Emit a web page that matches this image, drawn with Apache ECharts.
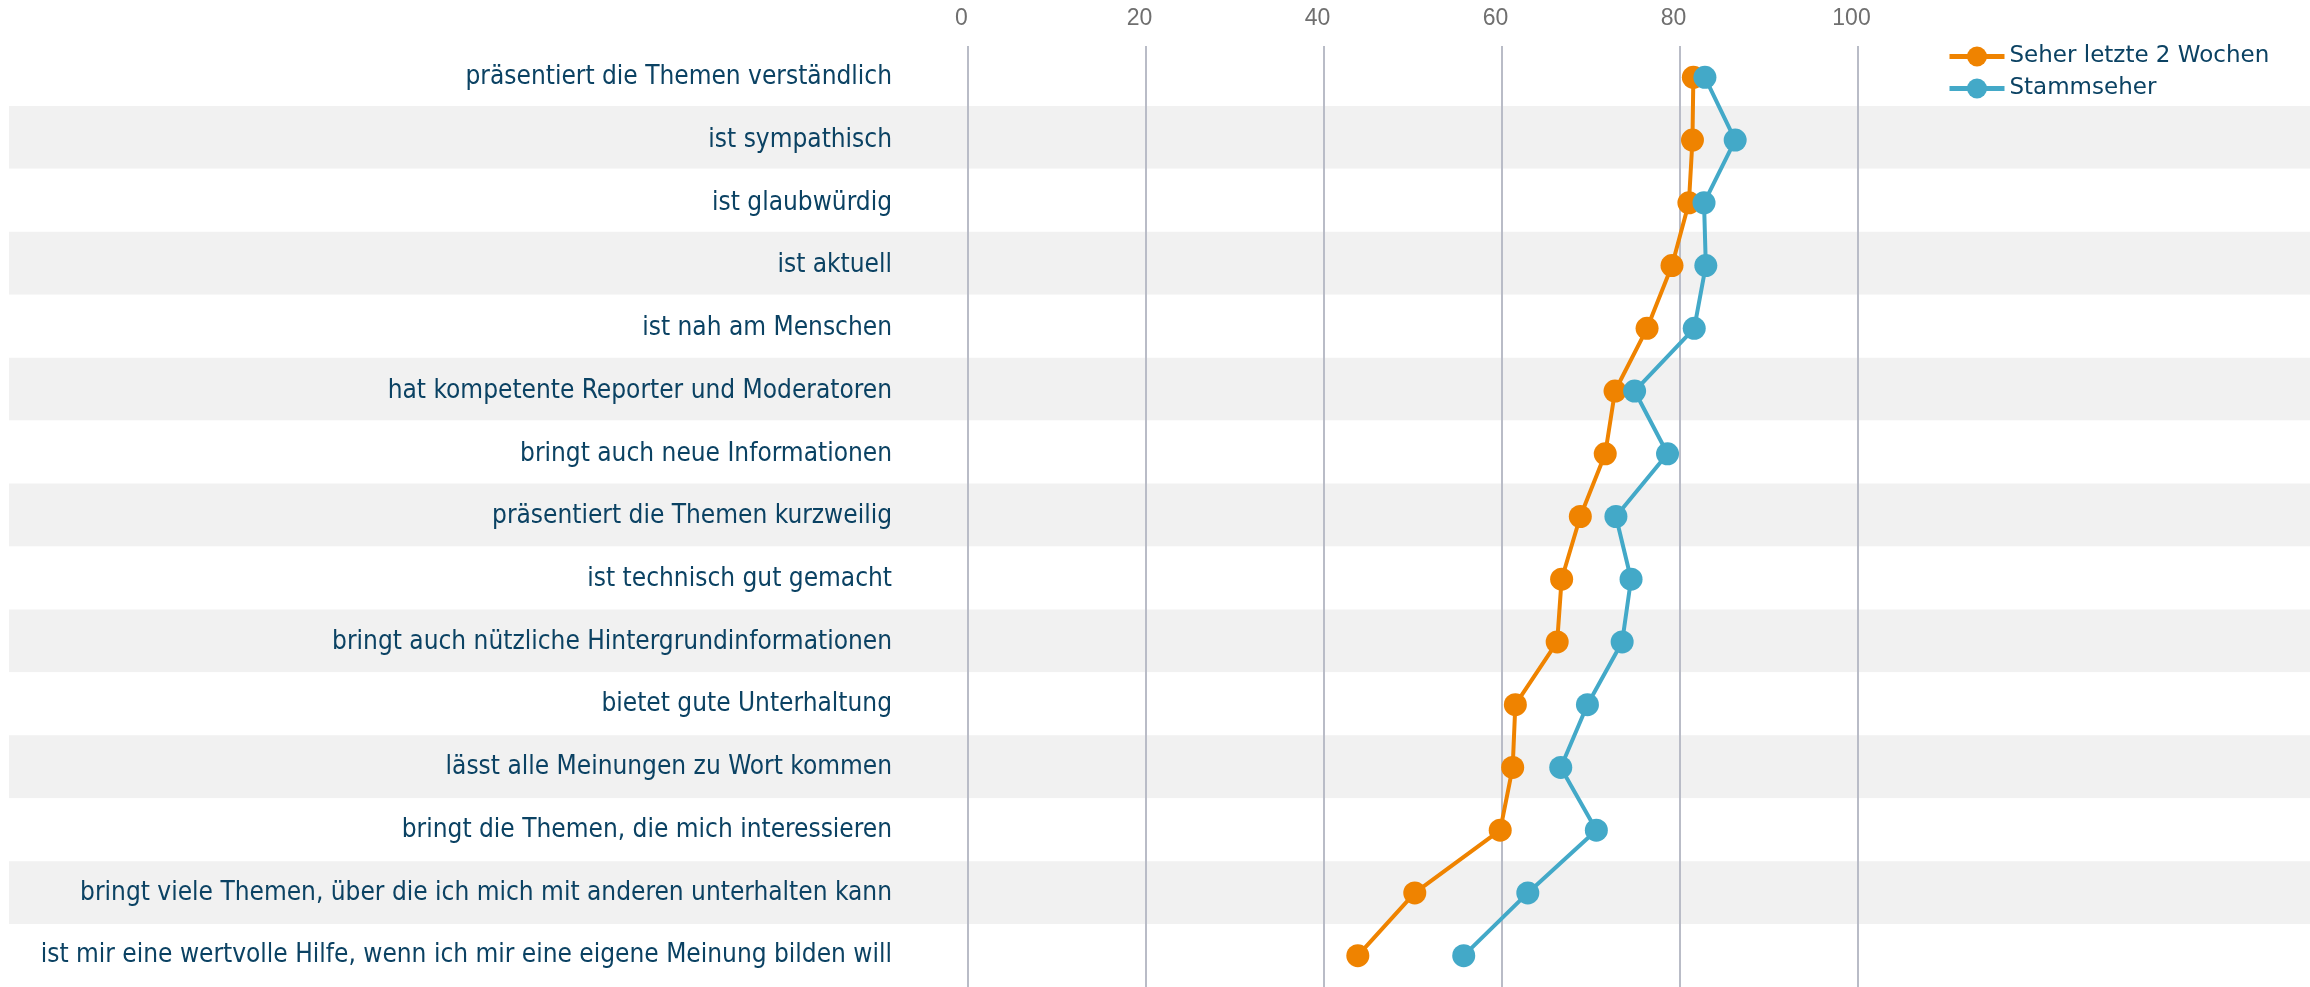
<!DOCTYPE html>
<html>
<head>
<meta charset="utf-8">
<script src="https://cdn.jsdelivr.net/npm/echarts@6/dist/echarts.min.js"></script>
<style>
  html, body { margin: 0; padding: 0; background: #ffffff; }
  #chart { width: 2310px; height: 987px; }
</style>
</head>
<body>
<div id="chart"></div>
<script>
var categories = [
    'präsentiert die Themen verständlich',
    'ist sympathisch',
    'ist glaubwürdig',
    'ist aktuell',
    'ist nah am Menschen',
    'hat kompetente Reporter und Moderatoren',
    'bringt auch neue Informationen',
    'präsentiert die Themen kurzweilig',
    'ist technisch gut gemacht',
    'bringt auch nützliche Hintergrundinformationen',
    'bietet gute Unterhaltung',
    'lässt alle Meinungen zu Wort kommen',
    'bringt die Themen, die mich interessieren',
    'bringt viele Themen, über die ich mich mit anderen unterhalten kann',
    'ist mir eine wertvolle Hilfe, wenn ich mir eine eigene Meinung bilden will'
];
var seherLetzte2Wochen = [81.5, 81.4, 81.0, 79.1, 76.3, 72.7, 71.6, 68.8, 66.7, 66.2, 61.5, 61.2, 59.8, 50.2, 43.8];
var stammseher = [82.8, 86.2, 82.7, 82.9, 81.6, 74.9, 78.6, 72.8, 74.5, 73.5, 69.6, 66.6, 70.6, 62.9, 55.7];
var xTicks = [0, 20, 40, 60, 80, 100];

try {
    var chart = echarts.init(document.getElementById('chart'));
    var labelColor = '#0b4263';
    var option = {
        animation: false,
        legend: {
            orient: 'vertical',
            left: 1942,
            top: 40,
            itemWidth: 55,
            itemHeight: 25,
            itemGap: 9,
            lineStyle: { width: 5 },
            textStyle: { color: labelColor, fontSize: 23, fontFamily: 'DejaVu Sans' },
            data: ['Seher letzte 2 Wochen', 'Stammseher']
        },
        grid: [
            // background bands across the whole width
            { left: 9, right: 0, top: 43, bottom: 0 },
            { left: 968, right: 452, top: 46, bottom: -3 }
        ],
        xAxis: [
            { gridIndex: 0, type: 'value', show: false },
            {
                gridIndex: 1,
                type: 'value',
                position: 'top',
                min: 0,
                max: 100,
                interval: 20,
                axisLine: { show: false },
                axisTick: { show: false },
                axisLabel: {
                    color: '#6f6f6f',
                    fontSize: 23,
                    fontFamily: 'Liberation Sans',
                    margin: 16,
                    padding: [0, 13, 0, 0],
                    formatter: function (v) { return xTicks.indexOf(v) >= 0 ? String(v) : ''; }
                },
                splitLine: { lineStyle: { color: '#b9bcc7', width: 2 } }
            }
        ],
        yAxis: [
            {
                gridIndex: 0,
                type: 'category',
                inverse: true,
                data: categories,
                axisLine: { show: false },
                axisTick: { show: false },
                axisLabel: { show: false },
                splitArea: { show: true, areaStyle: { color: ['#ffffff', '#f1f1f1'] } }
            },
            {
                gridIndex: 1,
                type: 'category',
                inverse: true,
                data: categories,
                axisLine: { show: false },
                axisTick: { show: false },
                axisLabel: {
                    color: labelColor,
                    fontSize: 26,
                    fontFamily: 'DejaVu Sans Condensed',
                    margin: 76
                }
            }
        ],
        series: [
            {
                name: 'Seher letzte 2 Wochen',
                type: 'line',
                xAxisIndex: 1,
                yAxisIndex: 1,
                data: seherLetzte2Wochen,
                symbol: 'circle',
                symbolSize: 23,
                color: '#ef8300',
                lineStyle: { width: 4 }
            },
            {
                name: 'Stammseher',
                type: 'line',
                xAxisIndex: 1,
                yAxisIndex: 1,
                data: stammseher,
                symbol: 'circle',
                symbolSize: 23,
                color: '#43a9c8',
                lineStyle: { width: 4 }
            }
        ]
    };
    chart.setOption(option);
} catch (error) {
    console.error('Failed to draw chart');
    console.error(error);
}
</script>
</body>
</html>
